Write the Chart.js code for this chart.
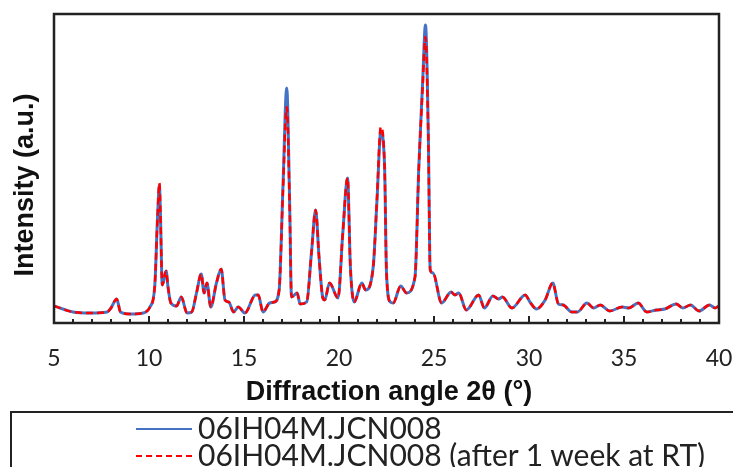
<!DOCTYPE html>
<html>
<head>
<meta charset="utf-8">
<script src="https://cdn.jsdelivr.net/npm/chart.js@4.4.1/dist/chart.umd.min.js"></script>
<style>
  html, body { margin: 0; padding: 0; background: #fff; }
  #wrap { position: relative; width: 733px; height: 467px; overflow: hidden; }
  #legend {
    position: absolute; left: 10px; top: 411px; width: 800px; height: 100px;
    border: 2px solid #222; box-sizing: border-box;
    font-family: Lato, "Open Sans", sans-serif; font-size: 30px; color: #222;
  }
  .row { position: absolute; left: 124px; height: 27px; display: flex; align-items: center; white-space: nowrap; }
  .sample { width: 56px; height: 0; margin-right: 6px; }
</style>
</head>
<body>
<div id="wrap">
  <canvas id="xrpd"></canvas>
  <div id="legend">
    <div class="row" style="top: 0px;"><span class="sample" style="border-top: 2px solid #4472C4; margin-top: 4px;"></span><span>06IH04M.JCN008</span></div>
    <div class="row" style="top: 27px;"><span class="sample" style="border-top: 2px dashed #FF0000; margin-top: 4px;"></span><span>06IH04M.JCN008 (after 1 week at RT)</span></div>
  </div>
</div>
<script>
// 2-theta positions (deg)
const angles = [5.0, 6.0, 6.9, 7.8, 8.0, 8.3, 8.5, 9.0, 9.7, 10.05,
  10.3, 10.45, 10.55, 10.6, 10.7, 10.9, 11.0, 11.15, 11.45, 11.7,
  12.0, 12.25, 12.5, 12.75, 12.9, 13.05, 13.25, 13.55, 13.8, 14.0,
  14.2, 14.45, 14.7, 15.05, 15.6, 15.75, 16.0, 16.35, 16.6, 16.85,
  17.05, 17.25, 17.4, 17.5, 17.8, 17.95, 18.3, 18.55, 18.77, 18.95,
  19.15, 19.25, 19.5, 19.95, 20.2, 20.45, 20.6, 20.8, 21.2, 21.4,
  21.8, 22.0, 22.2, 22.4, 22.5, 22.7, 22.85, 23.25, 23.55, 24.0,
  24.2, 24.4, 24.55, 24.7, 24.8, 24.95, 25.4, 25.9, 26.1, 26.3,
  26.7, 27.35, 27.65, 28.1, 28.4, 28.6, 29.1, 29.8, 30.05, 30.4,
  30.85, 31.25, 31.55, 31.8, 32.25, 32.55, 33.05, 33.4, 33.75, 34.25,
  34.9, 35.25, 35.75, 36.2, 36.7, 37.15, 37.75, 38.1, 38.5, 38.95,
  39.5, 39.8, 40.0];

const initial = [17, 11, 10, 11, 15, 24, 11, 9, 10, 16,
  36, 106, 138, 110, 38, 52, 36, 20, 17, 26,
  10, 11, 30, 49, 30, 40, 16, 40, 54, 23,
  21, 11, 16, 10, 28, 28, 11, 20, 21, 33,
  136, 235, 123, 26, 30, 19, 21, 70, 113, 66,
  25, 23, 40, 25, 90, 145, 56, 21, 40, 33,
  56, 123, 191, 156, 50, 21, 20, 37, 30, 46,
  156, 240, 298, 190, 53, 50, 20, 31, 28, 30,
  13, 28, 15, 27, 24, 26, 15, 28, 21, 14,
  23, 40, 19, 18, 11, 11, 20, 15, 18, 12,
  16, 15, 20, 11, 13, 14, 19, 15, 18, 12,
  18, 15, 17];

const afterWeek = [17, 11, 10, 11, 15, 24, 11, 9, 10, 16,
  36, 106, 140, 110, 38, 52, 36, 20, 17, 26,
  10, 11, 30, 49, 30, 40, 16, 40, 54, 23,
  21, 11, 16, 10, 28, 28, 11, 20, 21, 33,
  132, 216, 120, 26, 30, 19, 21, 70, 113, 66,
  25, 23, 40, 25, 90, 145, 56, 21, 40, 33,
  56, 125, 196, 156, 50, 21, 20, 37, 30, 46,
  154, 235, 286, 186, 53, 50, 20, 31, 28, 30,
  13, 28, 15, 27, 24, 26, 15, 28, 21, 14,
  23, 40, 19, 18, 11, 11, 20, 15, 18, 12,
  16, 15, 20, 11, 13, 14, 19, 15, 18, 12,
  18, 15, 17];

const xTicks = [5, 10, 15, 20, 25, 30, 35, 40];

const xTitle = 'Diffraction angle 2θ (°)';
const yTitle = 'Intensity (a.u.)';

const toPoints = ys => angles.map((a, i) => ({ x: a, y: ys[i] }));

// frame, inward tick marks and axis titles
const frame = {
  id: 'frame',
  afterDraw(chart) {
    const { ctx, chartArea: a, scales: { x } } = chart;
    ctx.save();
    ctx.strokeStyle = '#222';
    ctx.lineWidth = 2.5;
    ctx.strokeRect(a.left, a.top, a.right - a.left, a.bottom - a.top);
    ctx.lineWidth = 2;
    ctx.beginPath();
    for (let v = 5; v <= 40; v++) {
      const px = Math.round(x.getPixelForValue(v));
      const len = v % 5 === 0 ? 7 : 4;
      ctx.moveTo(px, a.bottom);
      ctx.lineTo(px, a.bottom - len);
    }
    ctx.stroke();

    ctx.fillStyle = '#111';
    ctx.font = 'bold 27px "Liberation Sans", Arial, sans-serif';
    ctx.textAlign = 'center';
    ctx.textBaseline = 'middle';
    ctx.fillText(xTitle, 389, 393);
    ctx.translate(26, 185);
    ctx.rotate(-Math.PI / 2);
    ctx.fillText(yTitle, 0, 0);
    ctx.restore();
  }
};

new Chart(document.getElementById('xrpd'), {
  type: 'line',
  data: {
    datasets: [{
      label: '06IH04M.JCN008',
      data: toPoints(initial),
      borderColor: '#4472C4',
      borderWidth: 3,
      pointRadius: 0,
      cubicInterpolationMode: 'monotone',
      order: 2,
    }, {
      label: '06IH04M.JCN008 (after 1 week at RT)',
      data: toPoints(afterWeek),
      borderColor: '#FF0000',
      borderWidth: 2.5,
      borderDash: [7, 4],
      pointRadius: 0,
      cubicInterpolationMode: 'monotone',
      order: 1,
    }],
  },
  options: {
    responsive: true,
    maintainAspectRatio: false,
    animation: false,
    layout: { padding: { left: 54, top: 14, right: 14, bottom: 0 } },
    plugins: { legend: { display: false }, tooltip: { enabled: false } },
    scales: {
      x: {
        type: 'linear',
        min: 5,
        max: 40,
        afterBuildTicks: s => { s.ticks = xTicks.map(v => ({ value: v })); },
        afterFit: s => { s.height = 144; s.paddingLeft = 0; s.paddingRight = 0; },
        grid: { display: false, drawTicks: false },
        border: { display: false },
        ticks: {
          padding: 22,
          color: '#222',
          maxRotation: 0,
          font: { family: 'Lato, "Open Sans", sans-serif', size: 23 },
        },
      },
      y: {
        display: false,
        min: 0,
        max: 309,
      },
    },
  },
  plugins: [frame],
});
</script>
</body>
</html>
